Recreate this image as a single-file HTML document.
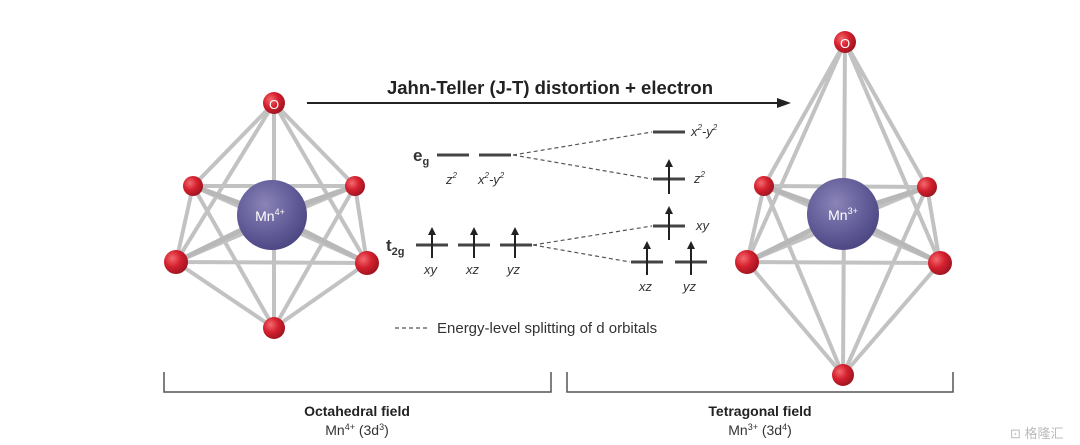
<!DOCTYPE html>
<html><head><meta charset="utf-8"><style>
html,body{margin:0;padding:0;background:#fff;}
svg{display:block;font-family:"Liberation Sans",sans-serif;}
</style></head><body>
<svg width="1080" height="445" viewBox="0 0 1080 445" xmlns="http://www.w3.org/2000/svg">
<defs>
<radialGradient id="red" cx="35%" cy="35%" r="70%"><stop offset="0" stop-color="#f36a70"/><stop offset="0.5" stop-color="#d5202e"/><stop offset="1" stop-color="#9c1420"/></radialGradient>
<radialGradient id="mn" cx="40%" cy="35%" r="70%"><stop offset="0" stop-color="#8a84b8"/><stop offset="0.6" stop-color="#625c98"/><stop offset="1" stop-color="#4a4580"/></radialGradient>
</defs>
<g stroke="#c2c2c2" stroke-width="4" fill="none">
<path d="M274 103L193 186M274 103L355 186M274 103L176 262M274 103L367 263
M274 328L193 186M274 328L355 186M274 328L176 262M274 328L367 263
M193 186L355 186M355 186L367 263M367 263L176 262M176 262L193 186
M193 186L367 263M355 186L176 262M274 103L274 328"/>
</g>
<g stroke="#b8b8b8" stroke-width="5"><path d="M272 215L193 186M272 215L355 186M272 215L176 262M272 215L367 263"/></g>
<circle cx="272" cy="215" r="35" fill="url(#mn)"/>
<text x="270" y="221" font-size="14" fill="#fff" text-anchor="middle">Mn<tspan font-size="9" dy="-6">4+</tspan></text>
<circle cx="274" cy="103" r="11" fill="url(#red)"/>
<text x="274" y="109" font-size="13" fill="#fff" text-anchor="middle">O</text>
<circle cx="193" cy="186" r="10" fill="url(#red)"/>
<circle cx="355" cy="186" r="10" fill="url(#red)"/>
<circle cx="176" cy="262" r="12" fill="url(#red)"/>
<circle cx="367" cy="263" r="12" fill="url(#red)"/>
<circle cx="274" cy="328" r="11" fill="url(#red)"/>

<g stroke="#c2c2c2" stroke-width="4" fill="none">
<path d="M845 42L764 186M845 42L927 187M845 42L747 262M845 42L940 263
M843 375L764 186M843 375L927 187M843 375L747 262M843 375L940 263
M764 186L927 187M927 187L940 263M940 263L747 262M747 262L764 186
M764 186L940 263M927 187L747 262M845 42L843 375"/>
</g>
<g stroke="#b8b8b8" stroke-width="5"><path d="M843 214L764 186M843 214L927 187M843 214L747 262M843 214L940 263"/></g>
<circle cx="843" cy="214" r="36" fill="url(#mn)"/>
<text x="843" y="220" font-size="14" fill="#fff" text-anchor="middle">Mn<tspan font-size="9" dy="-6">3+</tspan></text>
<circle cx="845" cy="42" r="11" fill="url(#red)"/>
<text x="845" y="48" font-size="13" fill="#fff" text-anchor="middle">O</text>
<circle cx="764" cy="186" r="10" fill="url(#red)"/>
<circle cx="927" cy="187" r="10" fill="url(#red)"/>
<circle cx="747" cy="262" r="12" fill="url(#red)"/>
<circle cx="940" cy="263" r="12" fill="url(#red)"/>
<circle cx="843" cy="375" r="11" fill="url(#red)"/>

<line x1="307" y1="103" x2="780" y2="103" stroke="#222" stroke-width="2"/>
<polygon points="791,103 777,98 777,108" fill="#222"/>
<text x="550" y="94" font-size="18.5" font-weight="bold" fill="#222" text-anchor="middle">Jahn-Teller (J-T) distortion + electron</text>

<g stroke="#444" stroke-width="3">
<path d="M437 155H469M479 155H511M416 245H448M458 245H490M500 245H532
M653 132H685M653 179H685M653 226H685M631 262H663M675 262H707"/>
</g>
<g stroke="#222" stroke-width="2">
<path d="M432 258V232M474 258V232M515 258V232M669 194V164M669 240V211M647 275V246M691 275V246"/>
</g>
<g fill="#222">
<polygon points="432,227 428,235 436,235"/><polygon points="474,227 470,235 478,235"/><polygon points="515,227 511,235 519,235"/>
<polygon points="669,159 665,167 673,167"/><polygon points="669,206 665,214 673,214"/>
<polygon points="647,241 643,249 651,249"/><polygon points="691,241 687,249 695,249"/>
</g>
<g stroke="#555" stroke-width="1.2" stroke-dasharray="4,3" fill="none">
<path d="M513 155L652 132M513 155L652 179M533 245L652 226M533 245L630 262"/>
<path d="M395 328H427"/>
</g>
<g fill="#333" font-size="13" font-style="italic">
<text x="413" y="161" font-size="17" font-weight="bold" font-style="normal">e<tspan font-size="11" dy="4">g</tspan></text>
<text x="386" y="251" font-size="17" font-weight="bold" font-style="normal">t<tspan font-size="11" dy="4">2g</tspan></text>
<text x="446" y="184">z<tspan font-size="8" dy="-6">2</tspan></text>
<text x="478" y="184">x<tspan font-size="8" dy="-6">2</tspan><tspan dy="6">-y</tspan><tspan font-size="8" dy="-6">2</tspan></text>
<text x="424" y="274">xy</text><text x="466" y="274">xz</text><text x="507" y="274">yz</text>
<text x="691" y="136">x<tspan font-size="8" dy="-6">2</tspan><tspan dy="6">-y</tspan><tspan font-size="8" dy="-6">2</tspan></text>
<text x="694" y="183">z<tspan font-size="8" dy="-6">2</tspan></text>
<text x="696" y="230">xy</text>
<text x="639" y="291">xz</text><text x="683" y="291">yz</text>
</g>
<text x="437" y="333" font-size="15" fill="#333">Energy-level splitting of d orbitals</text>

<g stroke="#555" stroke-width="1.5" fill="none">
<path d="M164 372V392H551V372"/>
<path d="M567 372V392H953V372"/>
</g>
<text x="357" y="416" font-size="14" font-weight="bold" fill="#222" text-anchor="middle">Octahedral field</text>
<text x="357" y="435" font-size="14" fill="#333" text-anchor="middle">Mn<tspan font-size="9" dy="-5">4+</tspan><tspan dy="5"> (3d</tspan><tspan font-size="9" dy="-5">3</tspan><tspan dy="5">)</tspan></text>
<text x="760" y="416" font-size="14" font-weight="bold" fill="#222" text-anchor="middle">Tetragonal field</text>
<text x="760" y="435" font-size="14" fill="#333" text-anchor="middle">Mn<tspan font-size="9" dy="-5">3+</tspan><tspan dy="5"> (3d</tspan><tspan font-size="9" dy="-5">4</tspan><tspan dy="5">)</tspan></text>
<text x="1010" y="438" font-size="13" fill="#bbb">⊡ 格隆汇</text>
</svg>
</body></html>
